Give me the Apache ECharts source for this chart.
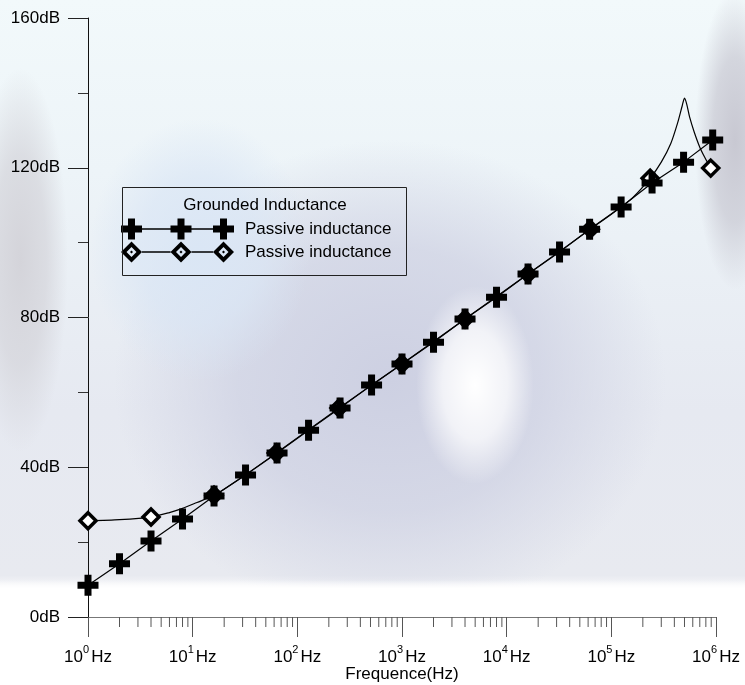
<!DOCTYPE html>
<html><head><meta charset="utf-8">
<script src="https://cdn.jsdelivr.net/npm/echarts@6/dist/echarts.min.js"></script>
<style>html,body{margin:0;padding:0;background:#fff}#c{width:745px;height:685px}</style>
</head><body><div id="c"></div>
<script>
// ---- data ----
const freqCross = [1, 2, 4, 8, 16, 32, 64, 128, 256, 512, 1000, 2000, 4000, 8000, 16000, 32000, 62000, 124000, 245000, 490000, 930000];
const dbCross   = [8.5, 14.2, 20.3, 26.2, 32.3, 37.9, 43.8, 49.9, 55.8, 62.0, 67.6, 73.4, 79.6, 85.4, 91.6, 97.5, 103.6, 109.5, 115.9, 121.5, 127.4];
const freqDiamond = [1, 4, 16, 63, 250, 1000, 4000, 16000, 63000, 235000, 890000];
const dbDiamond   = [25.7, 26.7, 32.5, 43.8, 55.8, 67.6, 79.6, 91.6, 103.6, 117.2, 119.9];
const freqCurve = [1, 2, 4, 6, 8, 11, 16, 32, 63, 250, 1000, 4000, 16000, 63000, 100000, 160000, 235000, 300000, 370000, 430000, 475000, 500000, 525000, 560000, 620000, 700000, 780000, 890000];
const dbCurve   = [25.7, 26.0, 26.7, 27.9, 29.0, 30.6, 32.5, 38.0, 43.8, 55.8, 67.6, 79.6, 91.6, 103.6, 107.6, 112.0, 117.2, 121.5, 126.5, 132.0, 136.5, 138.6, 137.0, 133.5, 129.5, 125.5, 122.8, 119.9];
const minorTickFreqs = [2,3,4,5,6,7,8,9, 20,30,40,50,60,70,80,90, 200,300,400,500,600,700,800,900,
  2000,3000,4000,5000,6000,7000,8000,9000, 20000,30000,40000,50000,60000,70000,80000,90000,
  200000,300000,400000,500000,600000,700000,800000,900000];
const seriesNames = ['Passive inductance', 'Passive inductance '];
const legendTitle = 'Grounded Inductance';
const xName = 'Frequence(Hz)';

const FONT = 'Arial, "Liberation Sans", sans-serif';
const crossSymbol = 'path://M7,0H14V7H21V14H14V21H7V14H0V7H7Z';
const legendCross = 'path://M10,9.8H103V11.2H10Z M7,0H14V7H21V14H14V21H7V14H0V7H7Z M56.5,0H63.5V7H70.5V14H63.5V21H56.5V14H49.5V7H56.5Z M99,0H106V7H113V14H106V21H99V14H92V7H99Z';
const legendDiamond = 'path://M21,9.8H49.5V11.2H21Z M70.5,9.8H92V11.2H70.5Z ' +
  'M10.5,0L21,10.5L10.5,21L0,10.5Z M10.5,5.5L5.5,10.5L10.5,15.5L15.5,10.5Z M9,10.5L10.5,9L12,10.5L10.5,12Z ' +
  'M60,0L70.5,10.5L60,21L49.5,10.5Z M60,5.5L55,10.5L60,15.5L65,10.5Z M58.5,10.5L60,9L61.5,10.5L60,12Z ' +
  'M102.5,0L113,10.5L102.5,21L92,10.5Z M102.5,5.5L97.5,10.5L102.5,15.5L107.5,10.5Z M101,10.5L102.5,9L104,10.5L102.5,12Z';

function blob(cx, cy, r, sx, sy, color, z) {
  return {type: 'circle', z: z, silent: true, shape: {cx: 0, cy: 0, r: r}, x: cx, y: cy, scaleX: sx, scaleY: sy,
    style: {fill: new echarts.graphic.RadialGradient(0.5, 0.5, 0.5, [
      {offset: 0, color: color.replace('A', '1')}, {offset: 0.55, color: color.replace('A', '0.7')},
      {offset: 1, color: color.replace('A', '0')}])}};
}

const chart = echarts.init(document.getElementById('c'), null, {renderer: 'canvas'});
const G = echarts.graphic;
const option = {
  animation: false,
  backgroundColor: '#ffffff',
  textStyle: {fontFamily: FONT},
  grid: {left: 88, right: 29, top: 18, bottom: 68, containLabel: false, outerBoundsMode: 'none'},
  graphic: [
    {type: 'rect', z: -100, silent: true, shape: {x: 0, y: 0, width: 745, height: 685},
     style: {fill: new G.LinearGradient(0, 0, 0, 1, [
       {offset: 0, color: '#f2f9fb'}, {offset: 0.25, color: '#edf4f8'},
       {offset: 0.6, color: '#e6e9f1'}, {offset: 0.84, color: '#e8eaf0'},
       {offset: 0.865, color: '#ffffff'}, {offset: 1, color: '#ffffff'}])}},
    blob(390, 380, 240, 1.15, 1, 'rgba(205,208,226,A)', -99),
    blob(200, 250, 110, 1, 1.2, 'rgba(218,230,245,A)', -98),
    blob(475, 385, 62, 0.95, 1.6, 'rgba(255,255,255,A)', -97),
    blob(20, 260, 60, 0.8, 3.2, 'rgba(212,212,218,A)', -96),
    blob(735, 140, 50, 0.8, 3, 'rgba(200,200,210,A)', -96),
    {type: 'rect', z: -95, silent: true, shape: {x: 0, y: 580, width: 745, height: 105},
     style: {fill: new G.LinearGradient(0, 0, 0, 1, [
       {offset: 0, color: 'rgba(255,255,255,0)'}, {offset: 0.08, color: 'rgba(255,255,255,1)'},
       {offset: 1, color: 'rgba(255,255,255,1)'}])}},
    // legend frame and title
    {type: 'rect', z: 50, silent: true, shape: {x: 122.5, y: 187.5, width: 284, height: 88},
     style: {fill: 'rgba(0,0,0,0)', stroke: '#222', lineWidth: 1}},
    {type: 'text', z: 51, silent: true, x: 265, y: 205,
     style: {text: legendTitle, font: '17px ' + FONT, fill: '#000', align: 'center', verticalAlign: 'middle'}}
  ],
  legend: {
    orient: 'vertical', left: 121, top: 218.5, padding: 0, itemGap: 2,
    itemWidth: 113, itemHeight: 21, selectedMode: false,
    textStyle: {fontSize: 17, color: '#000', fontFamily: FONT, padding: [0, 0, 0, 6]},
    data: [
      {name: seriesNames[0], icon: legendCross, itemStyle: {color: '#000', borderWidth: 0}},
      {name: seriesNames[1], icon: legendDiamond, itemStyle: {color: '#000', borderWidth: 0}}
    ]
  },
  xAxis: {
    type: 'log', logBase: 10, min: 1, max: 1000000, splitNumber: 6,
    name: xName, nameLocation: 'middle', nameGap: 49, nameMoveOverlap: false,
    nameTextStyle: {fontSize: 17, color: '#000', fontFamily: FONT},
    axisLine: {lineStyle: {color: '#777', width: 1}},
    axisTick: {show: true, length: 20, lineStyle: {color: '#555'}},
    splitLine: {show: false},
    axisLabel: {
      margin: 27, color: '#000',
      formatter: v => '{n|10}{s|' + Math.round(Math.log10(v)) + '}{h|Hz}',
      rich: {
        n: {fontSize: 17, fontFamily: FONT, color: '#000', lineHeight: 22, verticalAlign: 'bottom'},
        s: {fontSize: 11, fontFamily: FONT, color: '#000', lineHeight: 12, verticalAlign: 'top', padding: [0, 0, 10, 0]},
        h: {fontSize: 17, fontFamily: FONT, color: '#000', lineHeight: 22, verticalAlign: 'bottom', padding: [0, 0, 0, 2]}
      }
    }
  },
  yAxis: {
    type: 'value', min: 0, max: 160, interval: 40,
    axisLine: {show: true, lineStyle: {color: '#111', width: 1}},
    axisTick: {show: true, length: 20, lineStyle: {color: '#222'}},
    minorTick: {show: true, splitNumber: 2, length: 10, lineStyle: {color: '#333'}},
    splitLine: {show: false},
    axisLabel: {formatter: '{value}dB', fontSize: 17, color: '#000', fontFamily: FONT, margin: 28}
  },
  series: [
    {
      name: 'curve', type: 'line', z: 2, silent: true, showSymbol: false, clip: false,
      smooth: 0.25,
      lineStyle: {color: '#000', width: 1.2},
      data: freqCurve.map((f, i) => [f, dbCurve[i]])
    },
    {
      name: seriesNames[1], type: 'scatter', z: 3, silent: true, clip: false,
      symbol: 'diamond', symbolSize: 16,
      itemStyle: {color: '#fff', borderColor: '#000', borderWidth: 3.5, opacity: 1},
      data: freqDiamond.map((f, i) => [f, dbDiamond[i]])
    },
    {
      name: seriesNames[0], type: 'line', z: 4, silent: true, clip: false,
      symbol: crossSymbol, symbolSize: 21, showAllSymbol: true,
      itemStyle: {color: '#000'},
      lineStyle: {color: '#000', width: 1.2},
      data: freqCross.map((f, i) => [f, dbCross[i]])
    },
    {
      name: 'minorTicks', type: 'custom', silent: true, clip: false, z: 1,
      data: minorTickFreqs.map(f => [f, 0]),
      renderItem: (params, api) => {
        const p = api.coord([api.value(0), 0]);
        return {type: 'line', shape: {x1: p[0], y1: p[1], x2: p[0], y2: p[1] + 10},
                style: {stroke: '#555', lineWidth: 1}};
      }
    }
  ]
};
chart.setOption(option);
</script>
</body></html>
